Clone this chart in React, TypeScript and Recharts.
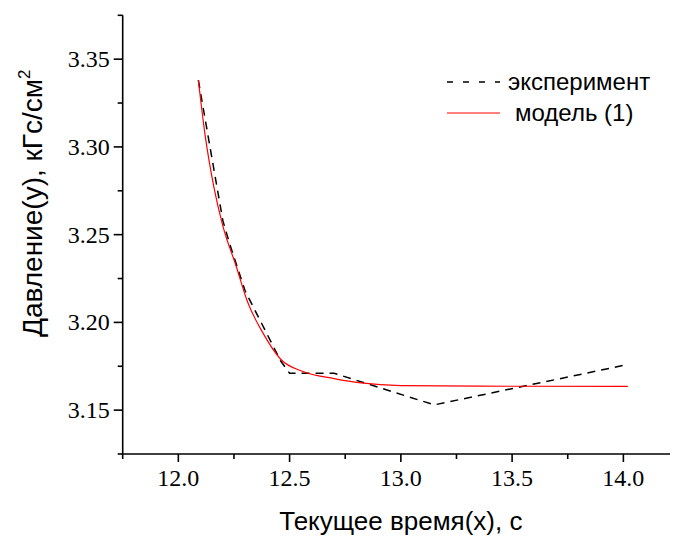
import React from 'react';
import { LineChart, Line, XAxis, YAxis, Legend, Label } from 'recharts';

// experiment (dashed black)
const experimentX = [12.09, 12.2, 12.23, 12.3, 12.46, 12.5, 12.7, 13.15, 14.02];
const experimentY = [3.338, 3.258, 3.245, 3.218, 3.178, 3.171, 3.171, 3.153, 3.176];

// model (1) (red)
const modelX = [12.09, 12.12, 12.16, 12.2, 12.26, 12.31, 12.38, 12.46, 12.56, 12.7, 12.82, 13.0, 13.5, 14.02];
const modelY = [3.338, 3.307, 3.277, 3.255, 3.232, 3.212, 3.194, 3.179, 3.172, 3.168, 3.1655, 3.164, 3.1636, 3.1635];

const xMajorTicks = [12.0, 12.5, 13.0, 13.5, 14.0];
const xMinorTicks = [11.75, 12.25, 12.75, 13.25, 13.75, 14.25];
const xTickLabels = ['12.0', '12.5', '13.0', '13.5', '14.0'];
const yMajorTicks = [3.15, 3.2, 3.25, 3.3, 3.35];
const yMinorTicks = [3.125, 3.175, 3.225, 3.275, 3.325, 3.375];
const yTickLabels = ['3.15', '3.20', '3.25', '3.30', '3.35'];

const seriesNames = ['эксперимент', 'модель (1)'];
const xTitle = 'Текущее время(x), с';
const yTitleMain = 'Давление(y), кГс/см';
const yTitleSup = '2';

const experimentData = experimentX.map((x, i) => ({ x, y: experimentY[i] }));
const modelData = modelX.map((x, i) => ({ x, y: modelY[i] }));

const xTicks = [...xMajorTicks, ...xMinorTicks].sort((a, b) => a - b);
const yTicks = [...yMajorTicks, ...yMinorTicks].sort((a, b) => a - b);

const findIdx = (v: number, arr: number[]) => arr.findIndex((t) => Math.abs(t - v) < 1e-6);

const SERIF = 'Liberation Serif';
const SANS = 'Liberation Sans';
const AXIS_W = 1.6;

const XTick = (props: any) => {
  const { x, y, payload } = props;
  const idx = findIdx(payload.value, xMajorTicks);
  const len = idx >= 0 ? 8 : 5;
  return (
    <g>
      <line x1={x} x2={x} y1={y} y2={y + len} stroke="#000" strokeWidth={AXIS_W} />
      {idx >= 0 && (
        <text x={x} y={y + 24} dy="0.33em" textAnchor="middle" fontFamily={SERIF} fontSize={24} fill="#000">
          {xTickLabels[idx]}
        </text>
      )}
    </g>
  );
};

const YTick = (props: any) => {
  const { x, y, payload } = props;
  const idx = findIdx(payload.value, yMajorTicks);
  const len = idx >= 0 ? 9 : 5;
  return (
    <g>
      <line x1={x - len} x2={x} y1={y} y2={y} stroke="#000" strokeWidth={AXIS_W} />
      {idx >= 0 && (
        <text x={x - 13} y={y} dy="0.33em" textAnchor="end" fontFamily={SERIF} fontSize={24} fill="#000">
          {yTickLabels[idx]}
        </text>
      )}
    </g>
  );
};

const XTitle = (props: any) => {
  const vb = props.viewBox || {};
  return (
    <text x={vb.x + vb.width / 2} y={vb.y + 67} dy="0.35em" textAnchor="middle" fontFamily={SANS} fontSize={26} fill="#000">
      {xTitle}
    </text>
  );
};

const YTitle = (props: any) => {
  const vb = props.viewBox || {};
  const cx = vb.x + 24;
  const cy = vb.y + 188;
  return (
    <text
      x={cx}
      y={cy}
      dy="0.35em"
      textAnchor="middle"
      fontFamily={SANS}
      fontSize={28}
      fill="#000"
      transform={`rotate(-90 ${cx} ${cy})`}
    >
      {yTitleMain}
      <tspan fontSize={17} dy="-12">{yTitleSup}</tspan>
    </text>
  );
};

const LegendBox = () => (
  <svg width={240} height={70} style={{ display: 'block', overflow: 'visible' }}>
    <line x1={9} x2={62} y1={19} y2={19} stroke="#000" strokeWidth={1.5} strokeDasharray="6 10" />
    <text x={70} y={19} dy="0.35em" fontFamily={SANS} fontSize={24} fill="#000">
      {seriesNames[0]}
    </text>
    <line x1={9} x2={62} y1={50} y2={50} stroke="#ff0000" strokeWidth={1.2} />
    <text x={77} y={50} dy="0.35em" fontFamily={SANS} fontSize={24} fill="#000">
      {seriesNames[1]}
    </text>
  </svg>
);

export default function App() {
  return (
    <div style={{ width: 670, height: 528, overflow: 'hidden', position: 'relative' }}>
      <LineChart width={672} height={528} margin={{ top: 7.3, right: 1, bottom: 0, left: 0 }}>
        <XAxis
          type="number"
          dataKey="x"
          domain={[11.75, 14.25]}
          ticks={xTicks}
          interval={0}
          allowDataOverflow
          height={82}
          tickSize={0}
          tickMargin={0}
          tickLine={false}
          axisLine={{ stroke: '#000', strokeWidth: AXIS_W }}
          tick={(p: any) => <XTick {...p} />}
          label={<Label content={(p: any) => <XTitle {...p} />} />}
        />
        <YAxis
          type="number"
          dataKey="y"
          domain={[3.125, 3.375]}
          ticks={yTicks}
          interval={0}
          allowDataOverflow
          width={114.7}
          tickSize={0}
          tickMargin={0}
          tickLine={false}
          axisLine={{ stroke: '#000', strokeWidth: AXIS_W }}
          tick={(p: any) => <YTick {...p} />}
          label={<Label content={(p: any) => <YTitle {...p} />} />}
        />
        <Legend
          layout="horizontal"
          verticalAlign="middle"
          align="center"
          content={() => <LegendBox />}
          wrapperStyle={{ position: 'absolute', left: 430, top: 55, width: 240, height: 70 }}
        />
        <Line
          data={experimentData}
          dataKey="y"
          name={seriesNames[0]}
          type="linear"
          stroke="#000"
          strokeWidth={1.5}
          strokeDasharray="8 6"
          dot={false}
          activeDot={false}
          isAnimationActive={false}
        />
        <Line
          data={modelData}
          dataKey="y"
          name={seriesNames[1]}
          type="monotone"
          stroke="#ff0000"
          strokeWidth={1.2}
          dot={false}
          activeDot={false}
          isAnimationActive={false}
        />
      </LineChart>
    </div>
  );
}
